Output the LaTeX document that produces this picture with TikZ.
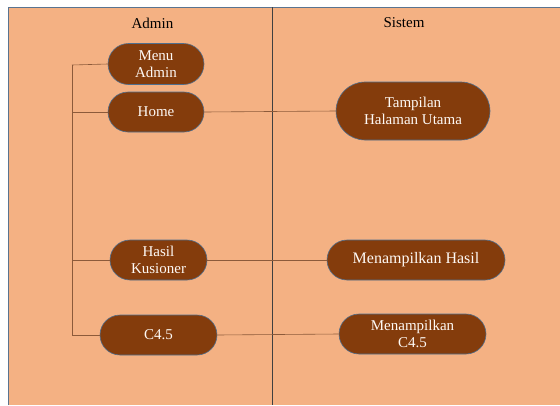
\documentclass[tikz,border=0pt]{standalone}
\usepackage{fontspec}
\setmainfont{Liberation Serif}
\usetikzlibrary{shapes.misc}
\definecolor{peach}{HTML}{F4B183}
\definecolor{nodebrown}{HTML}{843C0C}
\definecolor{nodeedge}{HTML}{4F6F8F}
\definecolor{wire}{HTML}{8C5A3A}
\definecolor{frame}{HTML}{5A7490}
\begin{document}
\begin{tikzpicture}[x=1pt,y=-1pt,
  pill/.style={rounded rectangle, fill=nodebrown, draw=nodeedge, line width=0.6pt,
    text=white!92!peach, font=\fontsize{15}{17}\selectfont, align=center, inner sep=0pt},
  wireline/.style={draw=wire, line width=0.6pt},
  header/.style={font=\fontsize{15}{17}\selectfont, text=black}]
\useasboundingbox (0,0) rectangle (560,405);
\fill[white] (0,0) rectangle (560,405);
\fill[peach] (8,7) rectangle (560,405);
\draw[frame, line width=0.7pt] (8,405) -- (8,7) -- (560,7);
\draw[black!75, line width=0.6pt] (272,7) -- (272,405);
\node[header] (hadmin) at (152.5,23) {Admin};
\node[header] (hsistem) at (404,23) {Sistem};
\node[pill, minimum width=96pt, minimum height=41pt] (menu) at (156,64) {Menu\\Admin};
\node[pill, minimum width=96pt, minimum height=40pt] (home) at (156,112) {Home};
\node[pill, minimum width=154pt, minimum height=58pt] (tamp) at (413,111) {Tampilan\\Halaman Utama};
\node[pill, minimum width=97pt, minimum height=40pt] (hasil) at (158.5,260) {Hasil\\Kusioner};
\node[pill, minimum width=178pt, minimum height=40pt] (mhasil) at (416,260) {\fontsize{16}{17}\selectfont Menampilkan Hasil};
\node[pill, minimum width=117pt, minimum height=40pt] (c45) at (158.5,335) {C4.5};
\node[pill, minimum width=147pt, minimum height=40pt] (mc45) at (412.5,334) {Menampilkan\\C4.5};
\coordinate (top) at (72,65);
\coordinate (bot) at (72,335);
\draw[wireline] (top) -- (bot);
\draw[wireline] (top) -- (menu.west);
\draw[wireline] (72,112) -- (home.west);
\draw[wireline] (72,260) -- (hasil.west);
\draw[wireline] (bot) -- (c45.west);
\draw[wireline] (home.east) -- (tamp.west);
\draw[wireline] (hasil.east) -- (mhasil.west);
\draw[wireline] (c45.east) -- (mc45.west);
\end{tikzpicture}
\end{document}
